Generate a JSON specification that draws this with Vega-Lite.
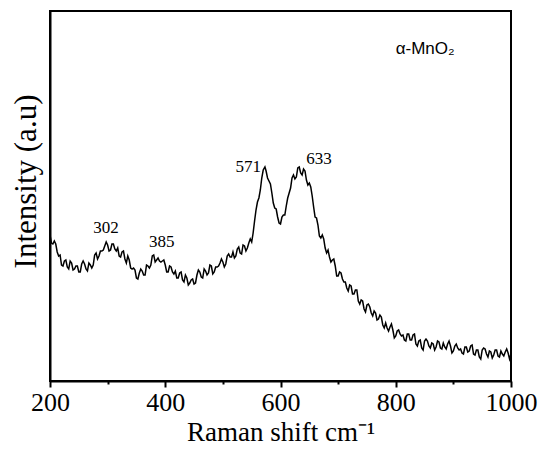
{
  "$schema": "https://vega.github.io/schema/vega-lite/v6.json",
  "width": 461,
  "height": 370,
  "autosize": {"type": "none"},
  "padding": {"left": 50, "top": 11, "right": 31, "bottom": 73},
  "background": "white",
  "config": {
    "view": {"stroke": "black", "strokeWidth": 2},
    "font": "Liberation Serif",
    "text": {"font": "Liberation Serif"}
  },
  "datasets": {
    "spec": [
      {"shift":200,"intensity":146},{"shift":202.5,"intensity":138},{"shift":205,"intensity":137},{"shift":207.5,"intensity":140},{"shift":210,"intensity":137},{"shift":212.5,"intensity":129},{"shift":215,"intensity":125},{"shift":217.5,"intensity":126},
      {"shift":220,"intensity":116},{"shift":222.5,"intensity":115},{"shift":225,"intensity":120},{"shift":227.5,"intensity":121},{"shift":230,"intensity":114},{"shift":232.5,"intensity":112},{"shift":235,"intensity":120},{"shift":237.5,"intensity":118},
      {"shift":240,"intensity":111},{"shift":242.5,"intensity":112},{"shift":245,"intensity":115},{"shift":247.5,"intensity":115},{"shift":250,"intensity":109},{"shift":252.5,"intensity":109},{"shift":255,"intensity":117},{"shift":257.5,"intensity":120},
      {"shift":260,"intensity":117},{"shift":262.5,"intensity":112},{"shift":265,"intensity":110},{"shift":267.5,"intensity":118},{"shift":270,"intensity":116},{"shift":272.5,"intensity":113},{"shift":275,"intensity":116},{"shift":277.5,"intensity":126},
      {"shift":280,"intensity":128},{"shift":282.5,"intensity":122},{"shift":285,"intensity":125},{"shift":287.5,"intensity":130},{"shift":290,"intensity":130},{"shift":292.5,"intensity":131},{"shift":295,"intensity":135},{"shift":297.5,"intensity":139},
      {"shift":300,"intensity":136},{"shift":302.5,"intensity":130},{"shift":305,"intensity":131},{"shift":307.5,"intensity":137},{"shift":310,"intensity":137},{"shift":312.5,"intensity":132},{"shift":315,"intensity":130},{"shift":317.5,"intensity":133},
      {"shift":320,"intensity":125},{"shift":322.5,"intensity":124},{"shift":325,"intensity":129},{"shift":327.5,"intensity":130},{"shift":330,"intensity":122},{"shift":332.5,"intensity":118},{"shift":335,"intensity":125},{"shift":337.5,"intensity":121},
      {"shift":340,"intensity":113},{"shift":342.5,"intensity":112},{"shift":345,"intensity":113},{"shift":347.5,"intensity":111},{"shift":350,"intensity":103},{"shift":352.5,"intensity":102},{"shift":355,"intensity":108},{"shift":357.5,"intensity":112},
      {"shift":360,"intensity":110},{"shift":362.5,"intensity":106},{"shift":365,"intensity":106},{"shift":367.5,"intensity":116},{"shift":370,"intensity":115},{"shift":372.5,"intensity":113},{"shift":375,"intensity":116},{"shift":377.5,"intensity":125},
      {"shift":380,"intensity":126},{"shift":382.5,"intensity":119},{"shift":385,"intensity":121},{"shift":387.5,"intensity":123},{"shift":390,"intensity":120},{"shift":392.5,"intensity":119},{"shift":395,"intensity":120},{"shift":397.5,"intensity":121},
      {"shift":400,"intensity":116},{"shift":402.5,"intensity":109},{"shift":405,"intensity":109},{"shift":407.5,"intensity":115},{"shift":410,"intensity":114},{"shift":412.5,"intensity":109},{"shift":415,"intensity":107},{"shift":417.5,"intensity":110},
      {"shift":420,"intensity":103},{"shift":422.5,"intensity":103},{"shift":425,"intensity":108},{"shift":427.5,"intensity":109},{"shift":430,"intensity":101},{"shift":432.5,"intensity":99},{"shift":435,"intensity":106},{"shift":437.5,"intensity":103},
      {"shift":440,"intensity":96},{"shift":442.5,"intensity":98},{"shift":445,"intensity":101},{"shift":447.5,"intensity":102},{"shift":450,"intensity":97},{"shift":452.5,"intensity":98},{"shift":455,"intensity":106},{"shift":457.5,"intensity":111},
      {"shift":460,"intensity":109},{"shift":462.5,"intensity":104},{"shift":465,"intensity":103},{"shift":467.5,"intensity":112},{"shift":470,"intensity":110},{"shift":472.5,"intensity":106},{"shift":475,"intensity":108},{"shift":477.5,"intensity":116},
      {"shift":480,"intensity":115},{"shift":482.5,"intensity":107},{"shift":485,"intensity":109},{"shift":487.5,"intensity":114},{"shift":490,"intensity":114},{"shift":492.5,"intensity":115},{"shift":495,"intensity":118},{"shift":497.5,"intensity":122},
      {"shift":500,"intensity":119},{"shift":502.5,"intensity":114},{"shift":505,"intensity":117},{"shift":507.5,"intensity":125},{"shift":510,"intensity":127},{"shift":512.5,"intensity":124},{"shift":515,"intensity":124},{"shift":517.5,"intensity":129},
      {"shift":520,"intensity":123},{"shift":522.5,"intensity":125},{"shift":525,"intensity":132},{"shift":527.5,"intensity":134},{"shift":530,"intensity":128},{"shift":532.5,"intensity":127},{"shift":535,"intensity":136},{"shift":537.5,"intensity":135},
      {"shift":540,"intensity":130},{"shift":542.5,"intensity":133},{"shift":545,"intensity":138},{"shift":547.5,"intensity":142},{"shift":550,"intensity":139},{"shift":552.5,"intensity":148},{"shift":555,"intensity":160},{"shift":557.5,"intensity":171},
      {"shift":560,"intensity":179},{"shift":562.5,"intensity":183},{"shift":565,"intensity":191},{"shift":567.5,"intensity":203},{"shift":570,"intensity":211},{"shift":573,"intensity":214},{"shift":575,"intensity":210},{"shift":577.5,"intensity":203},
      {"shift":580,"intensity":200},{"shift":582.5,"intensity":197},{"shift":585,"intensity":188},{"shift":587.5,"intensity":178},{"shift":590,"intensity":173},{"shift":592.5,"intensity":172},{"shift":595,"intensity":164},{"shift":597.5,"intensity":158},
      {"shift":600,"intensity":157},{"shift":602.5,"intensity":164},{"shift":605,"intensity":166},{"shift":607.5,"intensity":166},{"shift":610,"intensity":175},{"shift":612.5,"intensity":183},{"shift":615,"intensity":188},{"shift":617.5,"intensity":193},
      {"shift":620,"intensity":203},{"shift":622.5,"intensity":206},{"shift":625,"intensity":202},{"shift":627.5,"intensity":204},{"shift":630,"intensity":213},{"shift":632.5,"intensity":214},{"shift":635,"intensity":208},{"shift":637.5,"intensity":206},
      {"shift":640,"intensity":212},{"shift":642.5,"intensity":210},{"shift":645,"intensity":201},{"shift":647.5,"intensity":196},{"shift":650,"intensity":198},{"shift":652.5,"intensity":194},{"shift":655,"intensity":185},{"shift":657.5,"intensity":174},
      {"shift":660,"intensity":164},{"shift":662.5,"intensity":163},{"shift":665,"intensity":156},{"shift":667.5,"intensity":145},{"shift":670,"intensity":143},{"shift":672.5,"intensity":146},{"shift":675,"intensity":142},{"shift":677.5,"intensity":133},
      {"shift":680,"intensity":128},{"shift":682.5,"intensity":131},{"shift":685,"intensity":124},{"shift":687.5,"intensity":119},{"shift":690,"intensity":121},{"shift":692.5,"intensity":122},{"shift":695,"intensity":115},{"shift":697.5,"intensity":105},
      {"shift":700,"intensity":105},{"shift":702.5,"intensity":109},{"shift":705,"intensity":108},{"shift":707.5,"intensity":102},{"shift":710,"intensity":99},{"shift":712.5,"intensity":99},{"shift":715,"intensity":93},{"shift":717.5,"intensity":90},
      {"shift":720,"intensity":96},{"shift":722.5,"intensity":95},{"shift":725,"intensity":87},{"shift":727.5,"intensity":87},{"shift":730,"intensity":91},{"shift":732.5,"intensity":91},{"shift":735,"intensity":80},{"shift":737.5,"intensity":77},
      {"shift":740,"intensity":81},{"shift":742.5,"intensity":80},{"shift":745,"intensity":72},{"shift":747.5,"intensity":69},{"shift":750,"intensity":76},{"shift":752.5,"intensity":77},{"shift":755,"intensity":74},{"shift":757.5,"intensity":68},
      {"shift":760,"intensity":65},{"shift":762.5,"intensity":70},{"shift":765,"intensity":68},{"shift":767.5,"intensity":61},{"shift":770,"intensity":62},{"shift":772.5,"intensity":66},{"shift":775,"intensity":64},{"shift":777.5,"intensity":56},
      {"shift":780,"intensity":53},{"shift":782.5,"intensity":58},{"shift":785,"intensity":53},{"shift":787.5,"intensity":50},{"shift":790,"intensity":54},{"shift":792.5,"intensity":57},{"shift":795,"intensity":51},{"shift":797.5,"intensity":43},
      {"shift":800,"intensity":45},{"shift":802.5,"intensity":50},{"shift":805,"intensity":51},{"shift":807.5,"intensity":47},{"shift":810,"intensity":45},{"shift":812.5,"intensity":46},{"shift":815,"intensity":41},{"shift":817.5,"intensity":40},
      {"shift":820,"intensity":47},{"shift":822.5,"intensity":47},{"shift":825,"intensity":41},{"shift":827.5,"intensity":41},{"shift":830,"intensity":46},{"shift":832.5,"intensity":47},{"shift":835,"intensity":37},{"shift":837.5,"intensity":35},
      {"shift":840,"intensity":40},{"shift":842.5,"intensity":41},{"shift":845,"intensity":33},{"shift":847.5,"intensity":31},{"shift":850,"intensity":40},{"shift":852.5,"intensity":42},{"shift":855,"intensity":40},{"shift":857.5,"intensity":35},
      {"shift":860,"intensity":33},{"shift":862.5,"intensity":38},{"shift":865,"intensity":37},{"shift":867.5,"intensity":31},{"shift":870,"intensity":34},{"shift":872.5,"intensity":40},{"shift":875,"intensity":39},{"shift":877.5,"intensity":33},
      {"shift":880,"intensity":32},{"shift":882.5,"intensity":38},{"shift":885,"intensity":34},{"shift":887.5,"intensity":32},{"shift":890,"intensity":37},{"shift":892.5,"intensity":40},{"shift":895,"intensity":35},{"shift":897.5,"intensity":28},
      {"shift":900,"intensity":30},{"shift":902.5,"intensity":35},{"shift":905,"intensity":37},{"shift":907.5,"intensity":33},{"shift":910,"intensity":31},{"shift":912.5,"intensity":32},{"shift":915,"intensity":28},{"shift":917.5,"intensity":27},
      {"shift":920,"intensity":34},{"shift":922.5,"intensity":34},{"shift":925,"intensity":29},{"shift":927.5,"intensity":30},{"shift":930,"intensity":35},{"shift":932.5,"intensity":36},{"shift":935,"intensity":27},{"shift":937.5,"intensity":26},
      {"shift":940,"intensity":31},{"shift":942.5,"intensity":31},{"shift":945,"intensity":24},{"shift":947.5,"intensity":22},{"shift":950,"intensity":31},{"shift":952.5,"intensity":33},{"shift":955,"intensity":32},{"shift":957.5,"intensity":27},
      {"shift":960,"intensity":24},{"shift":962.5,"intensity":30},{"shift":965,"intensity":29},{"shift":967.5,"intensity":23},{"shift":970,"intensity":26},{"shift":972.5,"intensity":31},{"shift":975,"intensity":31},{"shift":977.5,"intensity":25},
      {"shift":980,"intensity":24},{"shift":982.5,"intensity":30},{"shift":985,"intensity":27},{"shift":987.5,"intensity":25},{"shift":990,"intensity":29},{"shift":992.5,"intensity":32},{"shift":995,"intensity":28},{"shift":997.5,"intensity":22},
      {"shift":1000,"intensity":27}
    ],
    "peaks": [
      {"label":"302","shift":297,"intensity":153},
      {"label":"385","shift":394,"intensity":139},
      {"label":"571","shift":544,"intensity":214},
      {"label":"633","shift":667,"intensity":222}
    ],
    "sample": [
      {"label":"α-MnO₂","shift":851,"intensity":332}
    ]
  },
  "layer": [
    {
      "data": {"name": "spec"},
      "mark": {"type": "line", "color": "black", "strokeWidth": 1.5, "clip": true},
      "encoding": {
        "x": {
          "field": "shift", "type": "quantitative",
          "scale": {"domain": [200, 1000], "nice": false, "zero": false},
          "axis": {
            "title": "Raman shift cm⁻¹",
            "titleFont": "Liberation Serif", "titleFontSize": 27, "titleFontWeight": "normal",
            "titleColor": "black", "titlePadding": 4,
            "values": [200, 300, 400, 500, 600, 700, 800, 900, 1000],
            "format": "d",
            "labelExpr": "datum.value % 200 === 0 ? datum.label : ''",
            "labelFont": "Liberation Serif", "labelFontSize": 26, "labelColor": "black",
            "labelFlush": false, "labelPadding": 2,
            "tickSize": {"condition": {"test": "datum.value % 200 === 0", "value": 6}, "value": 3},
            "tickColor": "black", "tickWidth": 2,
            "domainColor": "black", "domainWidth": 2,
            "grid": false
          }
        },
        "y": {
          "field": "intensity", "type": "quantitative",
          "scale": {"domain": [0, 370], "nice": false, "zero": false},
          "axis": {
            "title": "Intensity (a.u)",
            "titleFont": "Liberation Serif", "titleFontSize": 31, "titleFontWeight": "normal",
            "titleColor": "black", "titlePadding": 8, "titleY": 170,
            "labels": false, "ticks": false,
            "domainColor": "black", "domainWidth": 2,
            "grid": false
          }
        }
      }
    },
    {
      "data": {"name": "peaks"},
      "mark": {"type": "text", "font": "Liberation Serif", "fontSize": 17, "color": "black", "align": "center", "baseline": "middle"},
      "encoding": {
        "x": {"field": "shift", "type": "quantitative"},
        "y": {"field": "intensity", "type": "quantitative"},
        "text": {"field": "label"}
      }
    },
    {
      "data": {"name": "sample"},
      "mark": {"type": "text", "font": "Liberation Sans", "fontSize": 17, "color": "black", "align": "center", "baseline": "middle"},
      "encoding": {
        "x": {"field": "shift", "type": "quantitative"},
        "y": {"field": "intensity", "type": "quantitative"},
        "text": {"field": "label"}
      }
    }
  ]
}
